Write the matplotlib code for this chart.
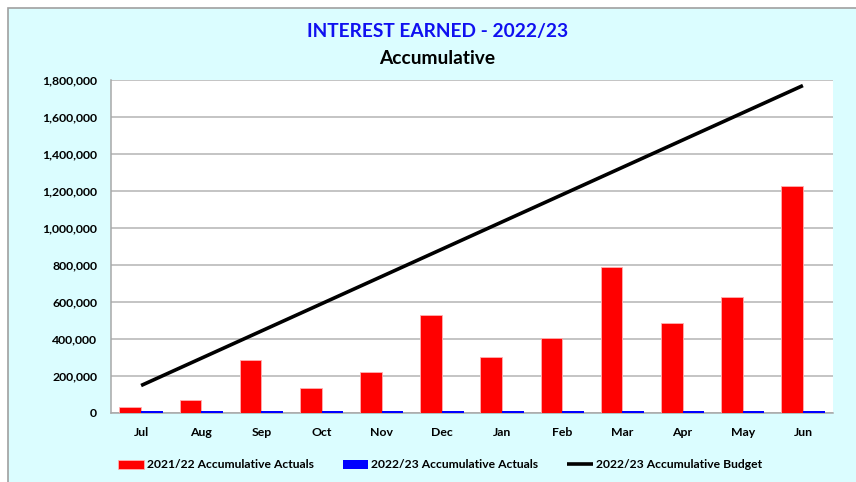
import numpy as np
import matplotlib.pyplot as plt
from matplotlib.patches import Rectangle
from matplotlib.ticker import FuncFormatter, MultipleLocator

months = ['Jul', 'Aug', 'Sep', 'Oct', 'Nov', 'Dec', 'Jan', 'Feb', 'Mar', 'Apr', 'May', 'Jun']
actuals_2122 = [33000, 70000, 287000, 135000, 223000, 528000, 303000, 405000, 790000, 487000, 629000, 1228000]
actuals_2223 = [12000, 12000, 12000, 12000, 12000, 12000, 12000, 12000, 12000, 12000, 12000, 12000]
budget_2223 = [147500, 295000, 442500, 590000, 737500, 885000, 1032500, 1180000, 1327500, 1475000, 1622500, 1770000]

plt.rcParams['font.family'] = ['Lato', 'DejaVu Sans']
plt.rcParams['font.weight'] = 'bold'

W, H = 856, 482
fig = plt.figure(figsize=(W/100, H/100), dpi=100, facecolor='white')
bg = '#DBFDFF'
# chart area with grey border (cut off at right/bottom)
fig.patches.append(Rectangle((8/W, -0.01), 1.0, 1 - 8/H + 0.01, transform=fig.transFigure,
                             facecolor=bg, edgecolor='#A0A0A0', linewidth=1.2, zorder=-5))

ax = fig.add_axes([111/W, 1 - 412.8/H, (833 - 111)/W, (412.8 - 80)/H])
ax.set_zorder(2)
ax.set_facecolor('white')

x = np.arange(len(months))
bw = 0.36
ax.bar(x - bw/2, actuals_2122, bw, color='#FF0000', edgecolor='#FFB0B0', linewidth=0.6,
       label='2021/22 Accumulative Actuals', zorder=3)
ax.bar(x + bw/2, actuals_2223, bw, color='#0000FF', linewidth=0,
       label='2022/23 Accumulative Actuals', zorder=3)
ax.plot(x, budget_2223, color='black', linewidth=2.6, solid_capstyle='butt',
        label='2022/23 Accumulative Budget', zorder=4)

ax.set_xlim(-0.5, len(months) - 0.5)
ax.set_ylim(0, 1800000)
ax.yaxis.set_major_locator(MultipleLocator(200000))
ax.yaxis.set_major_formatter(FuncFormatter(lambda v, p: f'{int(v):,}'))
ax.set_xticks(x)
ax.set_xticklabels(months)
ax.tick_params(axis='both', length=0, labelsize=8.8, colors='black')
ax.tick_params(axis='y', pad=10)
ax.tick_params(axis='x', pad=10)
for lab in ax.get_xticklabels() + ax.get_yticklabels():
    lab.set_fontweight('bold')

ax.grid(axis='y', color='#B4B4B4', linewidth=1.1, zorder=0)
ax.set_axisbelow(True)
for s in ['top', 'right']:
    ax.spines[s].set_visible(False)
ax.spines['left'].set_color('#A8A8A8')
ax.spines['bottom'].set_color('#A8A8A8')
ax.spines['left'].set_linewidth(1.1)
ax.spines['bottom'].set_linewidth(1.1)

fig.text(438/W, 1 - 31/H, 'INTEREST EARNED - 2022/23', color='#1010F0', fontsize=13.8,
         fontweight='bold', ha='center', va='center')
fig.text(437/W, 1 - 58/H, 'Accumulative', color='black', fontsize=13.8,
         fontweight='bold', ha='center', va='center')

h, l = ax.get_legend_handles_labels()
order = [1, 2, 0]
fig.legend([h[i] for i in order], [l[i] for i in order], loc='center',
           bbox_to_anchor=(440/W, 1 - 465/H), ncol=3, frameon=False,
           prop={'size': 8.7, 'weight': 'bold'}, handlelength=2.1, handleheight=0.7,
           handletextpad=0.25, columnspacing=2.4)

fig.savefig('out.png', dpi=100, facecolor='white')
